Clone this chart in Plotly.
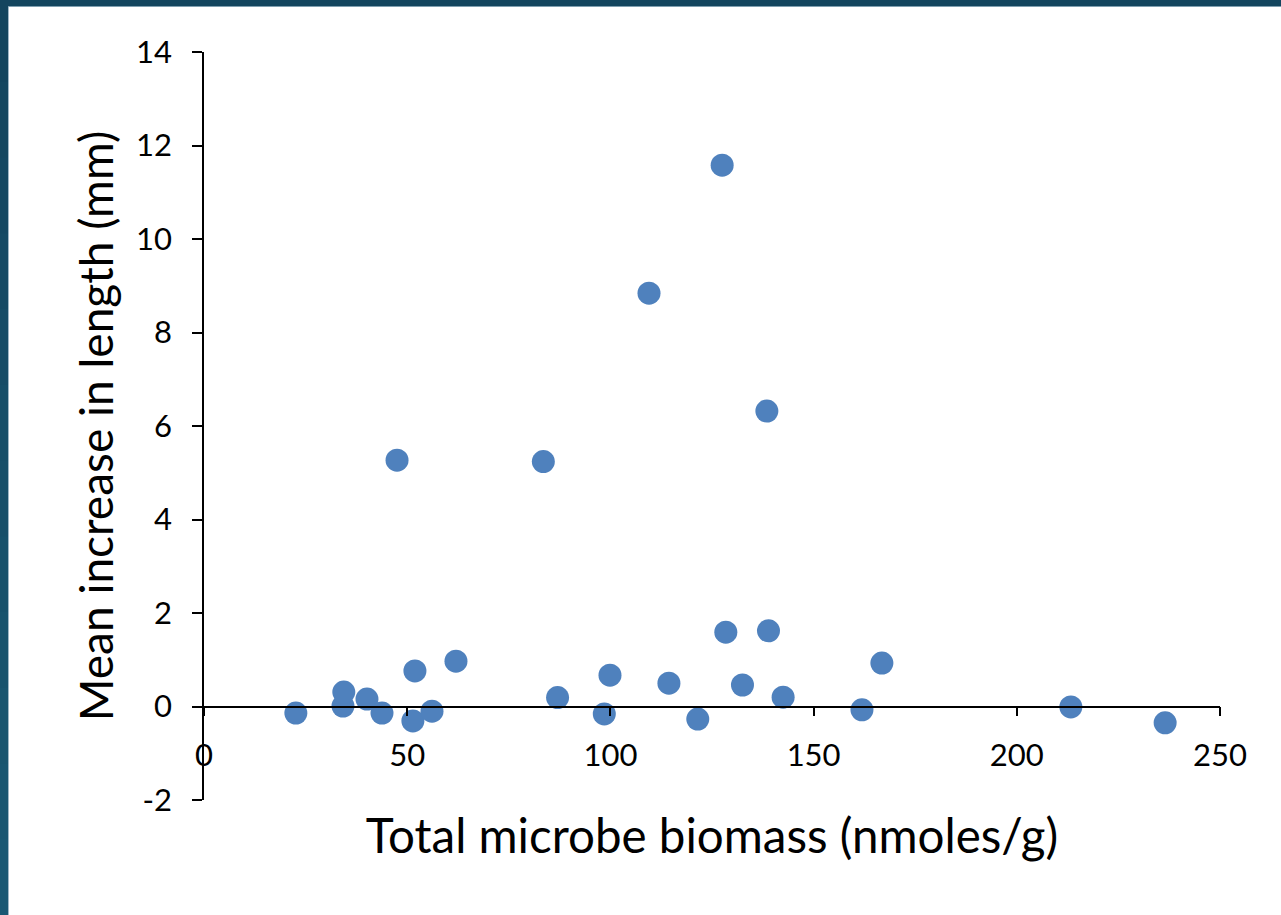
import plotly.graph_objects as go

biomass = [22.6, 34.2, 34.4, 40.1, 43.8, 47.5, 51.4, 51.9, 56.1, 62.0, 83.5, 87.0,
           98.5, 99.9, 109.5, 114.4, 121.5, 127.5, 128.4, 132.5, 138.5, 138.9, 142.5,
           161.9, 166.8, 213.3, 236.5]
length_increase = [-0.14, 0.01, 0.31, 0.16, -0.14, 5.27, -0.31, 0.76, -0.10, 0.97, 5.24, 0.19,
                   -0.16, 0.67, 8.84, 0.50, -0.27, 11.58, 1.59, 0.46, 6.32, 1.62, 0.20,
                   -0.07, 0.93, -0.01, -0.35]

x_ticks = [0, 50, 100, 150, 200, 250]
y_ticks = [-2, 0, 2, 4, 6, 8, 10, 12, 14]

FONT = "Lato"
W, H = 1281, 915
ML, MR, MT, MB = 204, 61, 52, 115
PW, PH = W - ML - MR, H - MT - MB

fig = go.Figure()
fig.add_trace(go.Scatter(
    x=biomass, y=length_increase, mode="markers",
    marker=dict(size=23, color="#4f81bd", line=dict(width=0)),
    showlegend=False, cliponaxis=False,
))

def px_x(p):
    return (p - ML) / PW
def px_y(p):
    return 1 - (p - MT) / PH

shapes = []
n = 12
c0 = (0x13, 0x45, 0x5e)
c1 = (0x1a, 0x58, 0x73)
for i in range(n):
    t = i / (n - 1)
    c = tuple(round(a + (b - a) * t) for a, b in zip(c0, c1))
    y_top = 6 + (H - 6) * i / n
    y_bot = min(H, 6 + (H - 6) * (i + 1) / n + 3)
    shapes.append(dict(type="rect", xref="paper", yref="paper",
                       x0=px_x(0), x1=px_x(8), y0=px_y(y_bot), y1=px_y(y_top),
                       fillcolor="rgb(%d,%d,%d)" % c, line=dict(width=0), layer="above"))
shapes.append(dict(type="rect", xref="paper", yref="paper",
                   x0=px_x(8), x1=px_x(9), y0=px_y(H), y1=px_y(6),
                   fillcolor="#9fb8c6", line=dict(width=0), layer="above"))
shapes.append(dict(type="rect", xref="paper", yref="paper",
                   x0=px_x(0), x1=px_x(W), y0=px_y(6), y1=px_y(0),
                   fillcolor="#13455e", line=dict(width=0), layer="above"))
shapes.append(dict(type="rect", xref="paper", yref="paper",
                   x0=px_x(8), x1=px_x(W), y0=px_y(7), y1=px_y(6),
                   fillcolor="#7f9fb0", line=dict(width=0), layer="above"))

fig.update_layout(
    width=W, height=H,
    margin=dict(l=ML, r=MR, t=MT, b=MB),
    paper_bgcolor="white", plot_bgcolor="white",
    font=dict(family=FONT, color="#000000"),
    shapes=shapes,
    xaxis=dict(
        range=[0, 250], tickvals=x_ticks, ticktext=[str(v) for v in x_ticks],
        showgrid=False, zeroline=False, showline=True, linecolor="#000000", linewidth=1.5,
        ticks="outside", ticklen=9, tickwidth=1.5, tickcolor="#000000",
        anchor="free", position=0.125,
        tickfont=dict(family=FONT, size=31, color="#000000"),
        ticklabelstandoff=13,
        title=dict(text="Total microbe biomass (nmoles/g)", standoff=46,
                   font=dict(family=FONT, size=47.5, color="#000000")),
    ),
    yaxis=dict(
        range=[-2, 14], tickvals=y_ticks, ticktext=[str(v) for v in y_ticks],
        showgrid=False, zeroline=False, showline=True, linecolor="#000000", linewidth=1.5,
        ticks="outside", ticklen=10, tickwidth=1.5, tickcolor="#000000",
        tickfont=dict(family=FONT, size=31, color="#000000"),
        ticklabelstandoff=14,
        title=dict(text="Mean increase in length (mm)", standoff=8,
                   font=dict(family=FONT, size=46, color="#000000")),
    ),
)

fig.write_html("out.html")
